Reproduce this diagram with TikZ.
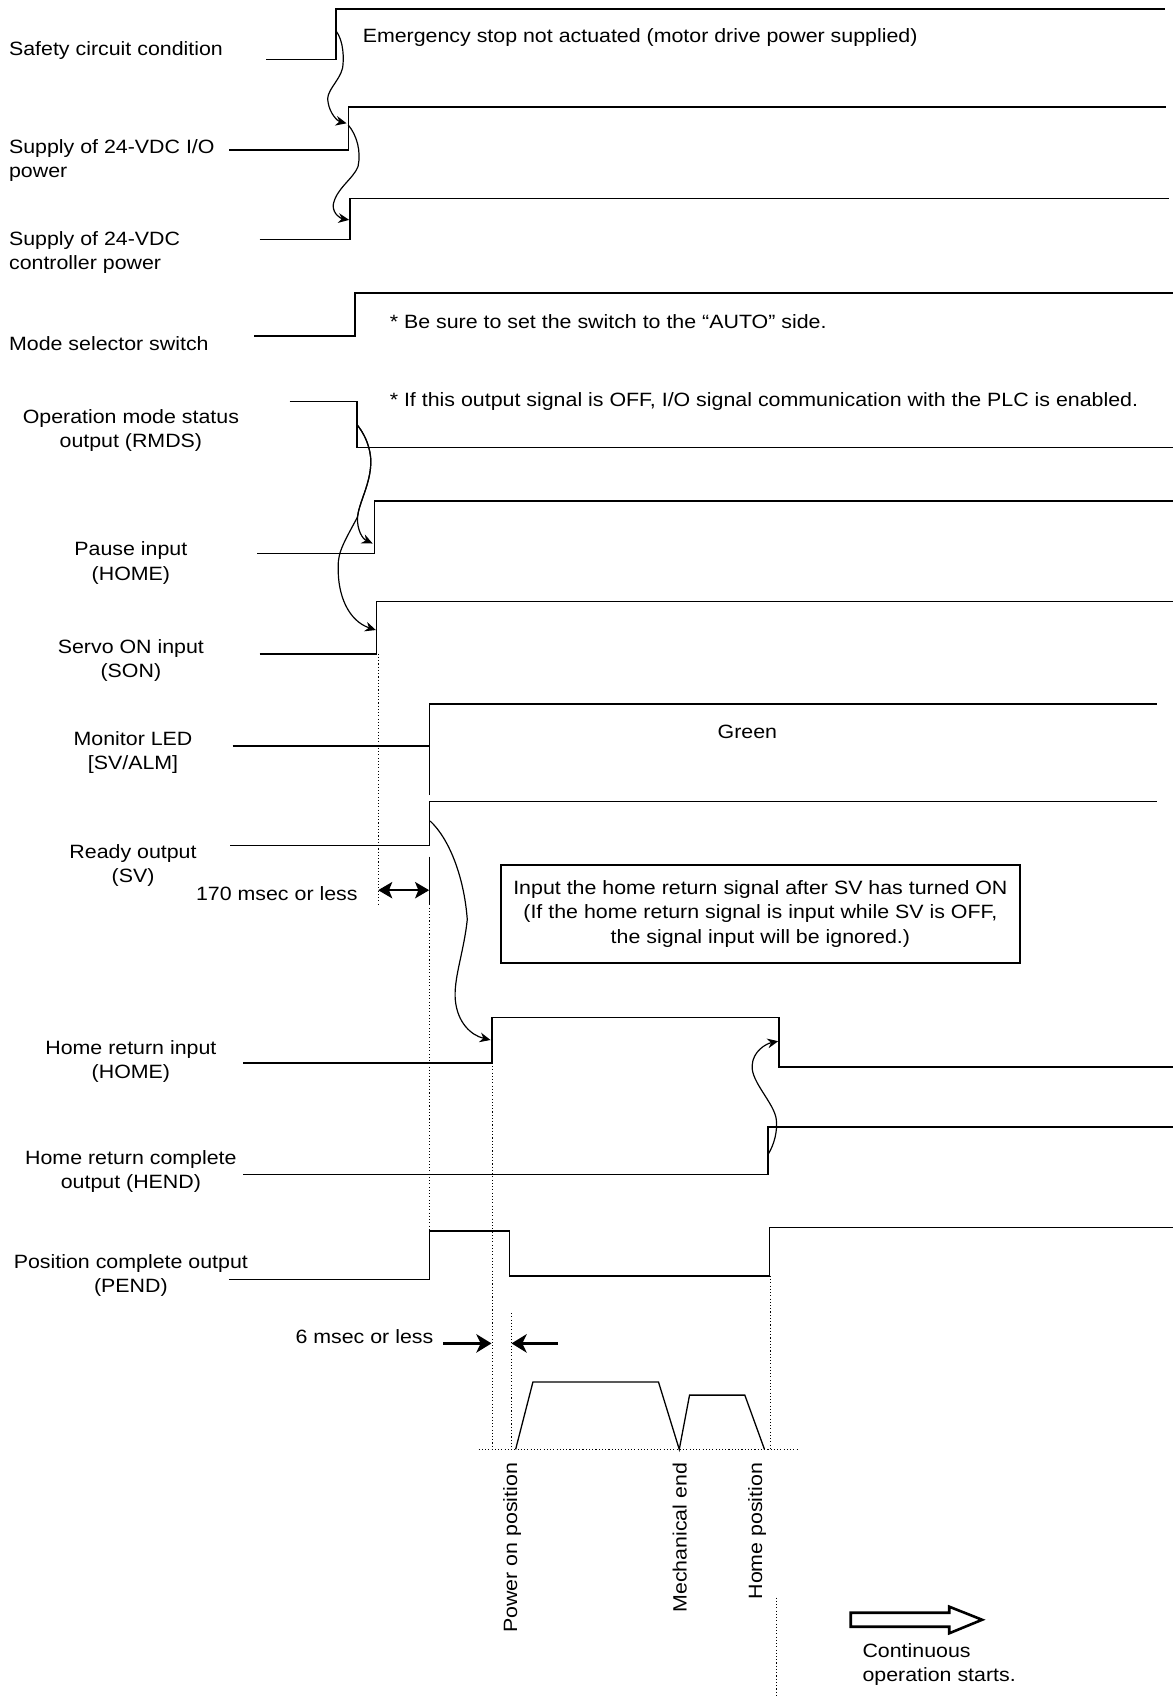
\documentclass[tikz,border=0pt]{standalone}
\usepackage{fontspec}
\setmainfont[FakeStretch=1.11]{Liberation Sans}
\usetikzlibrary{arrows.meta}
\begin{document}
\begin{tikzpicture}[x=0.5pt,y=-0.5pt,
  sig/.style={line width=0.7pt, line join=miter},
  crv/.style={line width=0.55pt, -{Stealth[length=5pt,width=4.5pt]}},
  dotl/.style={line width=0.5pt, dash pattern=on 0.5pt off 1pt},
  prof/.style={line width=0.6pt, line join=miter},
  lbl/.style={inner sep=0pt, font=\fontsize{8.9}{11.25}\selectfont, align=left},
  clbl/.style={lbl, align=center},
  dim/.style={line width=1.1pt, {Stealth[length=6.5pt,width=7.5pt,inset=1.5pt]}-{Stealth[length=6.5pt,width=7.5pt,inset=1.5pt]}},
  fat/.style={line width=1.4pt, -{Stealth[length=7pt,width=8.5pt,inset=2pt]}},
  hollow/.style={line width=1.2pt, line join=miter}
]
\useasboundingbox (0,0) rectangle (1084,1568);

% ---------- labels ----------
\node[lbl, anchor=west] (l1) at (8,46.5) {Safety circuit condition};
\node[lbl, anchor=west] (l2) at (8,148.5) {Supply of 24-VDC I/O\\power};
\node[lbl, anchor=west] (l3) at (8,233.5) {Supply of 24-VDC\\controller power};
\node[lbl, anchor=west] (l4) at (8,317.5) {Mode selector switch};
\node[clbl] (l5) at (121,398) {Operation mode status\\output (RMDS)};
\node[clbl] (l6) at (121,520.5) {Pause input\\(HOME)};
\node[clbl] (l7) at (121,610.5) {Servo ON input\\(SON)};
\node[clbl] (l8) at (123,695.5) {Monitor LED\\{[SV/ALM]}};
\node[clbl] (l9) at (123,800) {Ready output\\(SV)};
\node[clbl] (l10) at (121,981.5) {Home return input\\(HOME)};
\node[clbl] (l11) at (121,1083) {Home return complete\\output (HEND)};
\node[clbl] (l12) at (121,1179.5) {Position complete output\\(PEND)};

% ---------- annotations ----------
\node[lbl, anchor=west] (t1) at (335,35) {Emergency stop not actuated (motor drive power supplied)};
\node[lbl, anchor=west] (t2) at (360,297) {* Be sure to set the switch to the “AUTO” side.};
\node[lbl, anchor=west] (t3) at (360,371) {* If this output signal is OFF, I/O signal communication with the PLC is enabled.};
\node[lbl] (t4) at (691,676.5) {Green};
\node[lbl, anchor=east] (t5) at (331,826.5) {170 msec or less};
\node[clbl, draw, line width=1pt, minimum width=240pt, minimum height=45pt] (bx) at (703,845)
  {Input the home return signal after SV has turned ON\\(If the home return signal is input while SV is OFF,\\the signal input will be ignored.)};
\node[lbl, anchor=east] (t6) at (401,1235.5) {6 msec or less};
\node[lbl, anchor=west] (t7) at (797,1539) {Continuous\\operation starts.};
\node[lbl, rotate=90, anchor=east] (r1) at (473.5,1352) {Power on position};
\node[lbl, rotate=90, anchor=east] (r2) at (628.5,1352) {Mechanical end};
\node[lbl, rotate=90, anchor=east] (r3) at (700,1352) {Home position};

% ---------- waveforms ----------
\draw[sig] (246,55) -- (310.5,55) -- (310.5,8.5) -- (1077,8.5);
\draw[sig] (212,138.6) -- (322,138.6) -- (322,99) -- (1078,99);
\draw[sig] (240,221.5) -- (323.5,221.5) -- (323.5,183.3) -- (1081,183.3);
\draw[sig] (235,310.5) -- (328.2,310.5) -- (328.2,271) -- (1084,271);
\draw[sig] (267.7,371.2) -- (330.2,371.2) -- (330.2,413.7) -- (1084,413.7);
\draw[sig] (238,511.5) -- (346.2,511.5) -- (346.2,463) -- (1084,463);
\draw[sig] (240,604.4) -- (348.2,604.4) -- (348.2,556) -- (1084,556);
\draw[sig] (215,689.5) -- (397,689.5);
\draw[sig] (397,735) -- (397,651) -- (1070,651);
\draw[sig] (213,781.5) -- (397,781.5) -- (397,741) -- (1070,741);
\draw[sig] (397,792) -- (397,836);
\draw[sig] (225,982.6) -- (454.8,982.6) -- (454.8,940.5) -- (720,940.5) -- (720,986.3) -- (1084,986.3);
\draw[sig] (225,1086) -- (710,1086) -- (710,1042) -- (1084,1042);
\draw[sig] (211.5,1183) -- (397.2,1183) -- (397.2,1138.2) -- (471.1,1138.2) -- (471.1,1179.5)
  -- (711.6,1179.5) -- (711.6,1135) -- (1084,1135);

% ---------- dotted guides ----------
\draw[dotl] (349.6,604.4) -- (349.6,838);
\draw[dotl] (397,836) -- (397,1138.2);
\draw[dotl] (455,982.6) -- (455,1340);
\draw[dotl] (473,1214) -- (473,1340);
\draw[dotl] (712.5,1179.5) -- (712.5,1340);
\draw[dotl] (442.5,1340) -- (738.6,1340);
\draw[dotl] (718,1477) -- (718,1568);

% ---------- speed profile ----------
\draw[prof] (476.7,1340) -- (492.7,1277.7) -- (608.8,1277.7) -- (628,1340)
  -- (637.5,1289.8) -- (688.6,1289.8) -- (706.8,1340);

% ---------- causal curves ----------
\coordinate (c1s) at (310.5,28.3);  \coordinate (c1e) at (320.4,114);
\coordinate (c2s) at (321.9,115.5); \coordinate (c2e) at (322.8,203.3);
\coordinate (c3s) at (330.2,392.8); \coordinate (c3e) at (344.5,502.5);
\coordinate (c4e) at (347.5,582.5);
\coordinate (c5s) at (397.6,759);   \coordinate (c5e) at (453.5,961.5);
\coordinate (c6s) at (710,1067.4);  \coordinate (c6e) at (719.5,962.6);

\draw[crv] (c1s) .. controls (318,38) and (318,55) .. (316.7,63)
  .. controls (314,75) and (300,85) .. (303.4,95)
  .. controls (305,105) and (312,112) .. (c1e);
\draw[crv] (c2s) .. controls (330,125) and (334,140) .. (331,154)
  .. controls (327,165) and (310,175) .. (308,190)
  .. controls (308,198) and (315,202) .. (c2e);
\draw[crv] (c3s) .. controls (340,405) and (344,420) .. (342.6,432)
  .. controls (341,450) and (332,465) .. (330.5,478)
  .. controls (330,490) and (335,498) .. (c3e);
\draw[crv] (c3s) .. controls (340,405) and (344,420) .. (342.6,432)
  .. controls (341,450) and (332,465) .. (330.5,478)
  .. controls (320,498) and (312,510) .. (312.7,524)
  .. controls (312,550) and (322,574) .. (c4e);
\draw[crv] (c5s) .. controls (415,775) and (429,810) .. (432,850)
  .. controls (429,880) and (419,905) .. (421,925)
  .. controls (423,945) and (435,957) .. (c5e);
\draw[crv] (c6s) .. controls (716,1058) and (719,1045) .. (717.7,1035)
  .. controls (716,1020) and (694,1000) .. (695.4,985)
  .. controls (696,972) and (708,965) .. (c6e);

% ---------- dimension arrows ----------
\coordinate (d1a) at (349.6,823); \coordinate (d1b) at (396.8,823);
\draw[dim] (d1a) -- (d1b);
\coordinate (d2a) at (409.7,1242); \coordinate (d2b) at (454.4,1242);
\coordinate (d3a) at (516,1242);   \coordinate (d3b) at (472.9,1242);
\draw[fat] (d2a) -- (d2b);
\draw[fat] (d3a) -- (d3b);

% ---------- hollow arrow ----------
\draw[hollow] (786.5,1491) -- (877.6,1491) -- (877.6,1485.4) -- (908,1497.5)
  -- (877.6,1510) -- (877.6,1504) -- (786.5,1504) -- cycle;
\end{tikzpicture}
\end{document}
